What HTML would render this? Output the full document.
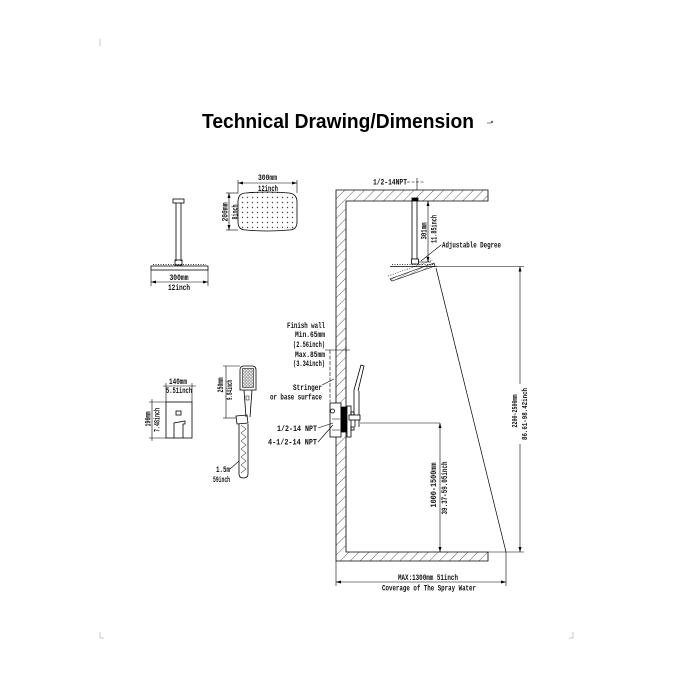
<!DOCTYPE html>
<html>
<head>
<meta charset="utf-8">
<style>
html,body{margin:0;padding:0;background:#fff;}
svg{display:block;}
.t{font-family:"Liberation Mono","DejaVu Sans Mono",monospace;font-size:8px;font-weight:bold;fill:#111;}
.ts{font-family:"Liberation Mono","DejaVu Sans Mono",monospace;font-size:7px;font-weight:bold;fill:#111;}
</style>
</head>
<body>
<svg width="675" height="675" viewBox="0 0 675 675" xmlns="http://www.w3.org/2000/svg">
<defs>
  <pattern id="hatch" patternUnits="userSpaceOnUse" width="7" height="7" patternTransform="rotate(45)">
    <line x1="0" y1="0" x2="0" y2="7" stroke="#333" stroke-width="0.8"/>
  </pattern>
  <pattern id="hatch2" patternUnits="userSpaceOnUse" width="2.5" height="2.5" patternTransform="rotate(60)">
    <line x1="0" y1="0" x2="0" y2="2.5" stroke="#222" stroke-width="0.6"/>
  </pattern>
  <pattern id="dots" patternUnits="userSpaceOnUse" width="5" height="5" x="240" y="195">
    <circle cx="2.5" cy="2.5" r="0.7" fill="#444"/>
  </pattern>
  <pattern id="dots2" patternUnits="userSpaceOnUse" width="3" height="3" x="242" y="368">
    <rect x="0.6" y="0.6" width="1.6" height="1.6" fill="none" stroke="#333" stroke-width="0.4"/>
  </pattern>
  <marker id="ar" viewBox="0 0 10 10" refX="10" refY="5" markerWidth="5" markerHeight="5" orient="auto-start-reverse" markerUnits="userSpaceOnUse">
    <path d="M0,2 L10,5 L0,8 z" fill="#000"/>
  </marker>
</defs>

<!-- corner marks -->
<g stroke="#bbb" stroke-width="0.8">
  <line x1="100" y1="39" x2="100" y2="46"/>
  <line x1="100" y1="632" x2="100" y2="638"/><line x1="100" y1="638" x2="104" y2="638"/>
  <line x1="573" y1="632" x2="573" y2="638"/><line x1="569" y1="638" x2="573" y2="638"/>
</g>

<!-- title -->
<text x="202" y="128" textLength="272" lengthAdjust="spacingAndGlyphs" style="font-family:'Liberation Sans',Arial,sans-serif;font-weight:bold;font-size:20px;fill:#000;">Technical Drawing/Dimension</text>
<g stroke="#666" stroke-width="0.8"><line x1="487" y1="123" x2="491" y2="123"/><circle cx="492" cy="122" r="0.8" fill="#666"/></g>

<!-- ===== LEFT: ceiling shower head side view ===== -->
<g stroke="#000" stroke-width="0.8" fill="none">
  <rect x="173" y="199" width="11" height="4" fill="#fff"/>
  <line x1="176" y1="203" x2="176" y2="261"/>
  <line x1="181" y1="203" x2="181" y2="261"/>
  <rect x="175" y="260" width="7" height="5"/>
  <rect x="151" y="266" width="57" height="4"/>
  <line x1="153" y1="264.5" x2="206" y2="264.5" stroke-dasharray="1 1.5"/>
  <line x1="151" y1="270" x2="151" y2="286" stroke-width="0.6"/>
  <line x1="208" y1="270" x2="208" y2="286" stroke-width="0.6"/>
  <line x1="151" y1="282" x2="208" y2="282" stroke-width="0.6" marker-start="url(#ar)" marker-end="url(#ar)"/>
</g>
<text class="t" x="179" y="280" text-anchor="middle" textLength="19" lengthAdjust="spacingAndGlyphs">300mm</text>
<text class="t" x="179" y="290" text-anchor="middle" textLength="22" lengthAdjust="spacingAndGlyphs">12inch</text>

<!-- ===== top view rect shower head ===== -->
<g stroke="#000" stroke-width="0.8" fill="none">
  <path d="M246,193 Q267,191 289,193 Q297,194 297,202 L297,222 Q297,230 289,230 Q267,232 246,230 Q238,230 238,222 L238,202 Q238,193 246,193 Z" fill="url(#dots)"/>
  <line x1="238" y1="180" x2="238" y2="193" stroke-width="0.6"/>
  <line x1="297" y1="180" x2="297" y2="193" stroke-width="0.6"/>
  <line x1="238" y1="183" x2="297" y2="183" stroke-width="0.6" marker-start="url(#ar)" marker-end="url(#ar)"/>
  <line x1="226" y1="193" x2="238" y2="193" stroke-width="0.6"/>
  <line x1="226" y1="230" x2="238" y2="230" stroke-width="0.6"/>
  <line x1="229" y1="193" x2="229" y2="230" stroke-width="0.6" marker-start="url(#ar)" marker-end="url(#ar)"/>
</g>
<text class="t" x="267.5" y="180" text-anchor="middle" textLength="19" lengthAdjust="spacingAndGlyphs">300mm</text>
<text class="t" x="268" y="191" text-anchor="middle" textLength="20" lengthAdjust="spacingAndGlyphs">12inch</text>
<text class="t" transform="translate(227.3,212) rotate(-90)" text-anchor="middle" textLength="19" lengthAdjust="spacingAndGlyphs">200mm</text>
<text class="t" transform="translate(237.4,212) rotate(-90)" text-anchor="middle" textLength="15" lengthAdjust="spacingAndGlyphs">8inch</text>

<!-- ===== valve trim front ===== -->
<g stroke="#000" stroke-width="0.8" fill="none">
  <rect x="166" y="402" width="26" height="36"/>
  <rect x="176" y="411" width="5" height="4"/>
  <path d="M174,438 L174,423 L185,421 L185,424 L183,424 L183,438"/>
  <line x1="166" y1="383" x2="166" y2="402" stroke-width="0.6"/>
  <line x1="192" y1="383" x2="192" y2="402" stroke-width="0.6"/>
  <line x1="163" y1="386" x2="196" y2="386" stroke-width="0.6"/>
  <line x1="149" y1="402" x2="166" y2="402" stroke-width="0.6"/>
  <line x1="149" y1="438" x2="166" y2="438" stroke-width="0.6"/>
  <line x1="152" y1="399" x2="152" y2="441" stroke-width="0.6"/>
</g>
<text class="t" x="178" y="384" text-anchor="middle" textLength="18" lengthAdjust="spacingAndGlyphs">140mm</text>
<text class="t" x="179" y="393" text-anchor="middle" textLength="26" lengthAdjust="spacingAndGlyphs">5.51inch</text>
<text class="t" transform="translate(150.5,419) rotate(-90)" text-anchor="middle" textLength="15" lengthAdjust="spacingAndGlyphs">190mm</text>
<text class="t" transform="translate(159.5,420) rotate(-90)" text-anchor="middle" textLength="24" lengthAdjust="spacingAndGlyphs">7.48inch</text>

<!-- ===== hand shower ===== -->
<g stroke="#000" stroke-width="0.8" fill="none">
  <path d="M240,390 L240,370 Q240,366 244,366 L252,366 Q256,366 256,370 L256,390 Z"/>
  <rect x="242.5" y="368.5" width="11" height="19" fill="url(#dots2)" stroke-width="0.5"/>
  <path d="M244,390 L246,417 M252,390 L250,417"/>
  <rect x="246" y="396" width="3" height="4" stroke-width="0.5"/>
  <path d="M236,416 L247,415 L248,423 L237,424 Z"/>
  <path d="M239,424 L239,474 Q239,478 243.5,478 Q248,478 248,474 L248,424"/>
  <polyline points="241,425 246,429 241,433 246,437 241,441 246,445 241,449 246,453 241,457 246,461 241,465 246,469 241,473" stroke-width="0.5"/>
  <line x1="223" y1="366" x2="240" y2="366" stroke-width="0.6"/>
  <line x1="223" y1="418" x2="236" y2="418" stroke-width="0.6"/>
  <line x1="226" y1="366" x2="226" y2="418" stroke-width="0.6"/>
  <line x1="230" y1="469" x2="239" y2="461" stroke-width="0.6"/>
</g>
<text class="t" transform="translate(223,385) rotate(-90)" text-anchor="middle" textLength="15" lengthAdjust="spacingAndGlyphs">250mm</text>
<text class="t" transform="translate(232,390) rotate(-90)" text-anchor="middle" textLength="20" lengthAdjust="spacingAndGlyphs">9.84inch</text>
<text class="t" x="223" y="472" text-anchor="middle" textLength="14" lengthAdjust="spacingAndGlyphs">1.5m</text>
<text class="t" x="221.5" y="482" text-anchor="middle" textLength="17" lengthAdjust="spacingAndGlyphs">59inch</text>

<!-- ===== WALL / CEILING / FLOOR ===== -->
<path d="M336,561 L336,190 L488,190 L488,201 L346,201 L346,552 L488,552 L488,561 Z" fill="url(#hatch)" stroke="#000" stroke-width="0.8"/>

<!-- ceiling pipe & head -->
<g stroke="#000" stroke-width="0.8" fill="none">
  <rect x="412" y="198" width="6" height="3" fill="#000"/>
  <rect x="412" y="201" width="5" height="58" fill="#fff"/>
  <rect x="411.5" y="259" width="7" height="5" fill="#fff"/>
  <line x1="390" y1="266.5" x2="437" y2="266.5"/>
  <line x1="392" y1="264.5" x2="435" y2="264.5" stroke-dasharray="1 1.5"/>
  <path d="M390,279 L434,263 L435,266 L392,281 Z" fill="url(#hatch2)" stroke-width="0.6"/>
  <line x1="388" y1="276" x2="433" y2="260" stroke-dasharray="1 1.5" stroke-width="0.6"/>
  <!-- 1/2-14NPT leader -->
  <line x1="407" y1="182" x2="424" y2="182" stroke-dasharray="3 1.5" stroke-width="0.6"/>
  <line x1="417" y1="178" x2="417" y2="190" stroke-width="0.6"/>
  <!-- 301 dim -->
  <line x1="418" y1="262" x2="431" y2="262" stroke-width="0.6"/>
  <line x1="428" y1="201" x2="428" y2="262" stroke-width="0.6" marker-start="url(#ar)" marker-end="url(#ar)"/>
  <!-- Adjustable leader -->
  <line x1="441" y1="245" x2="421" y2="261" stroke-width="0.6"/>
  <!-- spray line -->
  <line x1="436" y1="268" x2="506" y2="552" stroke-width="0.7"/>
  <!-- 2200 dim -->
  <line x1="437" y1="266.5" x2="524" y2="266.5" stroke-width="0.6"/>
  <line x1="520" y1="266.5" x2="520" y2="384" stroke-width="0.6" marker-start="url(#ar)"/>
  <line x1="520" y1="444" x2="520" y2="552" stroke-width="0.6" marker-end="url(#ar)"/>
  <line x1="488" y1="552" x2="524" y2="552" stroke-width="0.6"/>
  <!-- bottom dim -->
  <line x1="336" y1="561" x2="336" y2="586" stroke-width="0.6"/>
  <line x1="506" y1="552" x2="506" y2="586" stroke-width="0.6"/>
  <line x1="336" y1="582" x2="506" y2="582" stroke-width="0.6" marker-start="url(#ar)" marker-end="url(#ar)"/>
</g>
<text class="t" x="373" y="184.5" textLength="34" lengthAdjust="spacingAndGlyphs">1/2-14NPT</text>
<text class="t" x="442" y="247.5" textLength="59" lengthAdjust="spacingAndGlyphs">Adjustable Degree</text>
<text class="t" transform="translate(426.5,231) rotate(-90)" text-anchor="middle" textLength="17" lengthAdjust="spacingAndGlyphs">301mm</text>
<text class="t" transform="translate(436.5,229) rotate(-90)" text-anchor="middle" textLength="28" lengthAdjust="spacingAndGlyphs">11.85inch</text>
<text class="ts" transform="translate(517,411) rotate(-90)" text-anchor="middle" textLength="33" lengthAdjust="spacingAndGlyphs">2200-2500mm</text>
<text class="ts" transform="translate(527,414) rotate(-90)" text-anchor="middle" textLength="52" lengthAdjust="spacingAndGlyphs">86.61-98.42inch</text>

<!-- valve & finish wall -->
<g stroke="#000" stroke-width="0.8" fill="none">
  <rect x="330" y="403" width="11" height="34" fill="#fff"/>
  <circle cx="332.5" cy="411" r="2"/>
  <line x1="332" y1="419" x2="340" y2="419" stroke-width="0.5"/>
  <line x1="332" y1="430" x2="340" y2="430" stroke-width="0.5"/>
  <rect x="341" y="407" width="6" height="25" fill="#000"/>
  <rect x="347" y="406" width="4" height="31" fill="#fff"/>
  <rect x="351" y="412" width="3" height="3"/>
  <rect x="351" y="427" width="3" height="3"/>
  <rect x="349" y="415" width="11" height="5" fill="#fff"/>
  <line x1="354" y1="390" x2="354" y2="415"/>
  <line x1="359" y1="391" x2="359" y2="415"/>
  <line x1="355" y1="420" x2="355" y2="427"/>
  <line x1="359" y1="420" x2="359" y2="427"/>
  <path d="M354,390 L361,365 L364,366 L358,391"/>
  <line x1="360" y1="423" x2="440" y2="423" stroke-width="0.6"/>
  <line x1="440" y1="423" x2="440" y2="552" stroke-width="0.6" marker-start="url(#ar)" marker-end="url(#ar)"/>
  <!-- finish wall dim -->
  <line x1="325" y1="350" x2="350" y2="350" stroke-width="0.6"/>
  <line x1="346" y1="346" x2="346" y2="353" stroke-width="0.6"/>
  <line x1="330" y1="350" x2="330" y2="402" stroke-width="0.6" stroke-dasharray="4 1.5"/>
  <line x1="322" y1="385" x2="334" y2="379" stroke-width="0.6"/>
  <!-- NPT leaders -->
  <line x1="318" y1="428" x2="333" y2="423" stroke-width="0.6"/>
  <line x1="318" y1="442" x2="333" y2="425" stroke-width="0.6"/>
</g>
<text class="t" x="287" y="328" textLength="38" lengthAdjust="spacingAndGlyphs">Finish wall</text>
<text class="t" x="295" y="337" textLength="30" lengthAdjust="spacingAndGlyphs">Min.65mm</text>
<text class="t" x="293" y="347" textLength="32" lengthAdjust="spacingAndGlyphs">(2.56inch)</text>
<text class="t" x="295" y="357" textLength="30" lengthAdjust="spacingAndGlyphs">Max.85mm</text>
<text class="t" x="293" y="366" textLength="32" lengthAdjust="spacingAndGlyphs">(3.34inch)</text>
<text class="t" x="293" y="390" textLength="29" lengthAdjust="spacingAndGlyphs">Stringer</text>
<text class="t" x="270" y="399.5" textLength="52" lengthAdjust="spacingAndGlyphs">or base surface</text>
<text class="t" x="277" y="431" textLength="40" lengthAdjust="spacingAndGlyphs">1/2-14 NPT</text>
<text class="t" x="268" y="444.5" textLength="49" lengthAdjust="spacingAndGlyphs">4-1/2-14 NPT</text>
<text class="t" transform="translate(436,485) rotate(-90)" text-anchor="middle" textLength="45" lengthAdjust="spacingAndGlyphs">1000-1500mm</text>
<text class="t" transform="translate(447,488) rotate(-90)" text-anchor="middle" textLength="53" lengthAdjust="spacingAndGlyphs">39.37-59.05inch</text>

<text class="t" x="398" y="580" textLength="60" lengthAdjust="spacingAndGlyphs">MAX:1300mm 51inch</text>
<text class="t" x="382" y="590.5" textLength="94" lengthAdjust="spacingAndGlyphs">Coverage of The Spray Water</text>
</svg>
</body>
</html>
